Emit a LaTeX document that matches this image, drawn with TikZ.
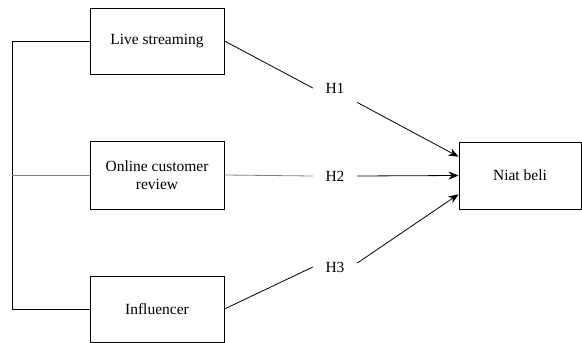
\documentclass[tikz,border=0pt]{standalone}
\usepackage{fontspec}
\setmainfont{Liberation Serif}
\usetikzlibrary{positioning, arrows.meta, calc}

\tikzset{
    varbox/.style={draw, line width=1pt, minimum width=134pt, minimum height=66pt,
        align=center, inner sep=0pt},
    hyplabel/.style={minimum width=44pt, minimum height=34pt, inner sep=0pt},
    link/.style={line width=0.8pt},
}

\begin{document}
\begin{tikzpicture}[x=1pt, y=-1pt, font=\fontsize{15.5}{18}\selectfont]
    \useasboundingbox (0,0) rectangle (582,343);

    % variables
    \node[varbox] (ls) at (157,41) {Live streaming};
    \node[varbox, minimum height=68pt] (ocr) at (157,175) {Online customer\\review};
    \node[varbox] (inf) at (157,309) {Influencer};
    \node[varbox, minimum width=122pt, minimum height=67pt] (nb) at (520,175.5) {Niat beli};

    % hypotheses
    \foreach \h/\y in {1/88, 2/176, 3/267}
    {
        \node[hyplabel] (h\h) at (335,\y) {H\h};
    }

    % left bracket
    \coordinate (bustop) at (12,41);
    \coordinate (busbot) at (12,309);
    \draw[link] (ls.west) -- (bustop) -- (busbot) -- (inf.west);
    \draw[link, gray] (ocr.west) -- (ocr.west -| bustop);

    % variable to hypothesis
    \foreach \src/\h/\co in {ls/h1/black, ocr/h2/gray, inf/h3/black}
    {
        \draw[link, \co] (\src.east) -- (\h.west);
    }

    % hypothesis to niat beli
    \foreach \h/\from/\to in {h1/-33/163, h2/0/180, h3/10/197}
    {
        \draw[link, -{Stealth[length=10pt, width=8pt]}] (\h.\from) -- (nb.\to);
    }
\end{tikzpicture}
\end{document}
